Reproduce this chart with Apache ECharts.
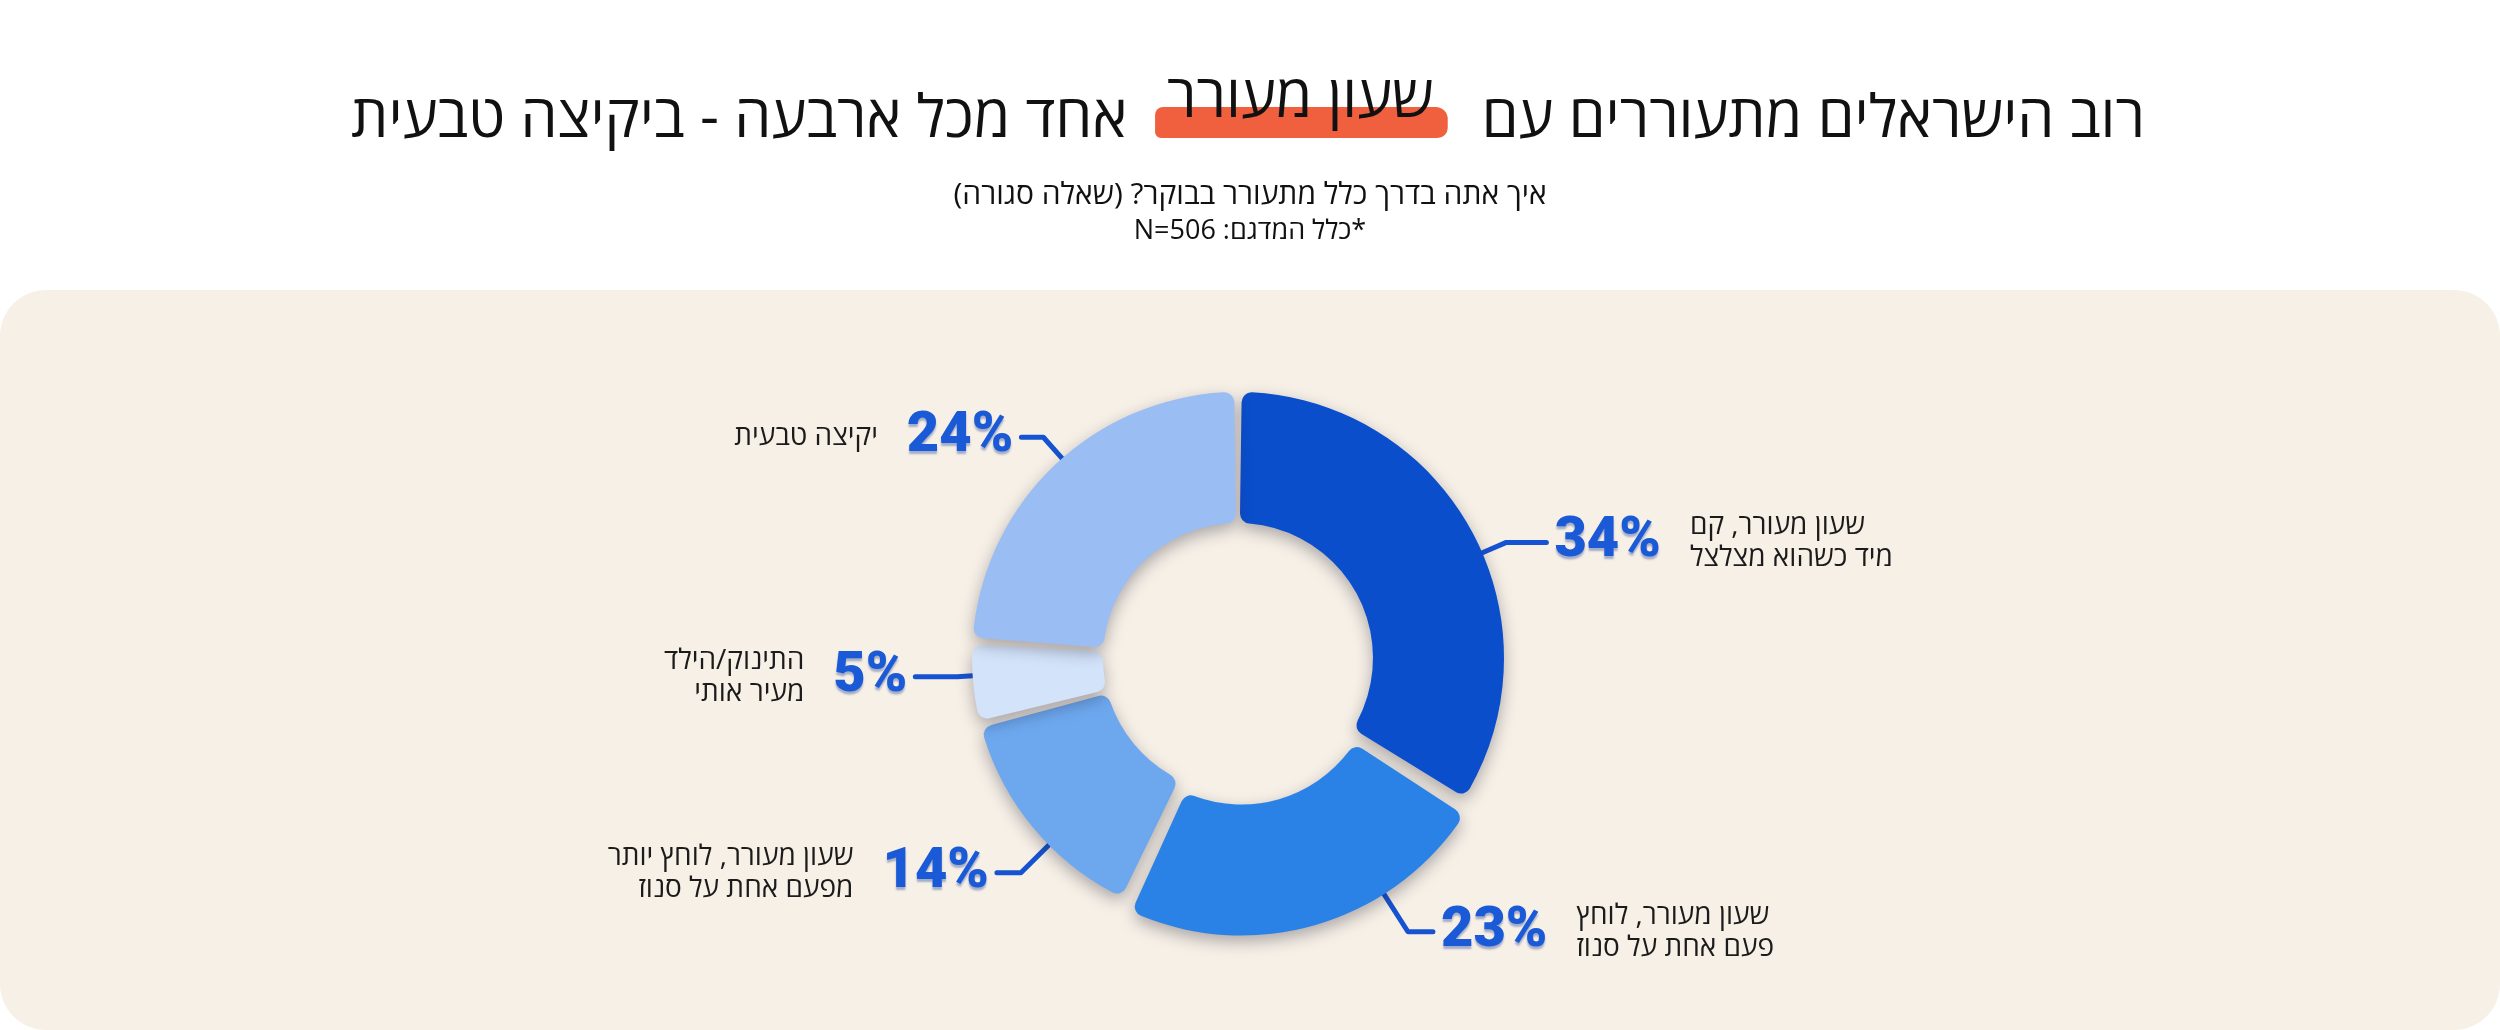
<!DOCTYPE html>
<html lang="he">
<head>
<meta charset="utf-8">
<title>שעון מעורר</title>
<script src="https://cdn.jsdelivr.net/npm/echarts@6/dist/echarts.min.js"></script>
<style>
  html, body { margin: 0; padding: 0; background: #ffffff; }
  #main { width: 2500px; height: 1030px; }
</style>
</head>
<body>
<div id="main" dir="rtl"></div>
<script>
// data, clockwise from 12 o'clock
var names = [
  'שעון מעורר, קם\nמיד כשהוא מצלצל',
  'שעון מעורר, לוחץ\nפעם אחת על סנוז',
  'שעון מעורר, לוחץ יותר\nמפעם אחת על סנוז',
  'התינוק/הילד\nמעיר אותי',
  'יקיצה טבעית'
];
var values = [34, 23, 14, 5, 24];
var titleRight = 'רוב הישראלים מתעוררים עם';
var titleMark = 'שעון מעורר';
var titleLeft = 'אחד מכל ארבעה - ביקיצה טבעית';
var question = 'איך אתה בדרך כלל מתעורר בבוקר? (שאלה סגורה)';
var sampleNote = '*כלל המדגם: N=506';

// styling
var colors = ['#0A4ECC', '#2B82E6', '#6DA8EF', '#D3E3FA', '#9ABEF3'];
var lineLen2 = [40, 25, 24, 42, 22];
// nudges of the labels away from their default spot
var labelDx = [1, 76, 19, 22, 16];
var labelDy = [27, -22, 26, -9, -5];
var nameGap = 24;
var explodeIdx = 1, explodeDist = 12;
var hebFamily = '"Open Sans", "Liberation Sans", "DejaVu Sans", sans-serif';
var pctFamily = 'Roboto, "Liberation Sans", sans-serif';
var pctSize = 56;
var titleFont = 'normal 59px ' + hebFamily;

var ctx = document.createElement('canvas').getContext('2d');
function textW(s, font) {
    ctx.font = font;
    return ctx.measureText(s).width;
}

// title pieces laid out left to right (visual order)
var gapA = 40, gapB = 48;
var wl = textW(titleLeft, titleFont);
var wm = textW(titleMark, titleFont);
var wr = textW(titleRight, titleFont);
var x0 = 1248 - (wl + gapA + wm + gapB + wr) / 2;
var xm = x0 + wl + gapA;
var xr = xm + wm + gapB;

var center = [1238, 658];
var radius = [135, 266];

// the pulled-out slice gets its own pie, shifted along its middle angle
var total = values.reduce(function (a, b) { return a + b; }, 0);
var before = values.slice(0, explodeIdx).reduce(function (a, b) { return a + b; }, 0);
var midAng = (before + values[explodeIdx] / 2) / total * 2 * Math.PI;
var explodeVec = [explodeDist * Math.sin(midAng), -explodeDist * Math.cos(midAng)];
var centerOut = [center[0] + explodeVec[0], center[1] + explodeVec[1]];

// moves a label, and (when c is given) runs its leader from the closest
// point of the ring to a short horizontal stub next to the label
function makeNudge(extra, c) {
    return function (p) {
        var i = p.dataIndex;
        var r = p.labelRect;
        var onLeft = r.x + r.width / 2 < center[0];
        var ax = onLeft ? r.x + r.width : r.x;
        var ex = i === explodeIdx ? extra : [0, 0];
        var x = ax + labelDx[i] + ex[0];
        var y = r.y + r.height / 2 + labelDy[i] + ex[1];
        var res = { x: x, y: y };
        if (c) {
            var bx = onLeft ? x + lineLen2[i] : x - lineLen2[i];
            var vx = bx - c[0], vy = y - c[1];
            var d = Math.sqrt(vx * vx + vy * vy);
            var sx = c[0] + vx / d * radius[1];
            var sy = c[1] + vy / d * radius[1];
            res.labelLinePoints = [[sx, sy], [bx, y], [x, y]];
        }
        return res;
    };
}

var clear = 'rgba(0,0,0,0)';
var pctLabel = {
    position: 'outside',
    formatter: '{c}%',
    fontFamily: pctFamily,
    fontSize: pctSize,
    fontWeight: 900,
    color: '#1A5AD6',
    padding: [0, 8, 0, 8],
    textShadowColor: 'rgba(10, 45, 140, 0.35)',
    textShadowBlur: 2,
    textShadowOffsetY: 3,
    distanceToLabelLine: 0
};
var pctLine = {
    show: true,
    lineStyle: { color: '#1553D2', width: 5, cap: 'round', join: 'round' }
};
var sliceStyle = {
    borderRadius: 10,
    shadowBlur: 16,
    shadowColor: 'rgba(30, 30, 50, 0.35)',
    shadowOffsetY: 6
};

var mainData = values.map(function (v, i) {
    var out = i === explodeIdx;
    return {
        value: v,
        name: names[i],
        itemStyle: { color: out ? clear : colors[i] },
        label: { show: !out },
        labelLine: { show: !out, length: 30, length2: lineLen2[i] }
    };
});
var outData = values.map(function (v, i) {
    var out = i === explodeIdx;
    return {
        value: v,
        name: names[i],
        itemStyle: { color: out ? colors[i] : clear },
        label: { show: out },
        labelLine: { show: out, length: 30, length2: lineLen2[i] }
    };
});
var nameData = values.map(function (v, i) {
    var pw = textW(v + '%', '900 ' + pctSize + 'px ' + pctFamily);
    return {
        value: v,
        name: names[i],
        labelLine: { length: 30, length2: lineLen2[i] + pw + 16 + nameGap }
    };
});

function pieBase(c) {
    return {
        type: 'pie',
        center: c,
        radius: radius,
        startAngle: 90,
        clockwise: true,
        padAngle: 1.6,
        avoidLabelOverlap: false,
        emphasis: { disabled: true }
    };
}

var myChart = echarts.init(document.getElementById('main'));
var option = {
    animation: false,
    backgroundColor: '#ffffff',
    title: {
        text: question,
        subtext: sampleNote,
        left: 'center',
        top: 171,
        itemGap: 0,
        textStyle: { fontFamily: hebFamily, fontSize: 30, fontWeight: 'normal', color: '#111111', lineHeight: 38 },
        subtextStyle: { fontFamily: hebFamily, fontSize: 27, color: '#111111', lineHeight: 34 }
    },
    graphic: [
        {
            type: 'rect', silent: true, z: -10,
            shape: { x: 0, y: 290, width: 2500, height: 740, r: 46 },
            style: { fill: '#F7F0E7' }
        },
        {
            type: 'rect', silent: true,
            shape: { x: xm - 12, y: 107, width: wm + 26, height: 31, r: [8, 12, 10, 6] },
            style: { fill: '#F0603E' }
        },
        {
            type: 'text', silent: true, x: x0, y: 120,
            style: { text: titleLeft, font: titleFont, fill: '#111111', textAlign: 'left', textVerticalAlign: 'middle' }
        },
        {
            type: 'text', silent: true, x: xm, y: 100,
            style: { text: titleMark, font: titleFont, fill: '#111111', textAlign: 'left', textVerticalAlign: 'middle' }
        },
        {
            type: 'text', silent: true, x: xr, y: 120,
            style: { text: titleRight, font: titleFont, fill: '#111111', textAlign: 'left', textVerticalAlign: 'middle' }
        }
    ],
    series: [
        Object.assign(pieBase(center), {
            name: 'pct',
            itemStyle: sliceStyle,
            label: pctLabel,
            labelLine: pctLine,
            labelLayout: makeNudge([0, 0], center),
            data: mainData
        }),
        Object.assign(pieBase(centerOut), {
            name: 'pctOut',
            itemStyle: sliceStyle,
            label: pctLabel,
            labelLine: pctLine,
            labelLayout: makeNudge([0, 0], centerOut),
            data: outData
        }),
        Object.assign(pieBase(center), {
            name: 'names',
            silent: true,
            itemStyle: { color: clear },
            label: {
                position: 'outside',
                formatter: '{b}',
                fontFamily: hebFamily,
                fontSize: 28,
                lineHeight: 32,
                color: '#1b1b1b'
            },
            labelLine: { show: false },
            labelLayout: makeNudge(explodeVec, null),
            data: nameData
        })
    ]
};
myChart.setOption(option);
</script>
</body>
</html>
